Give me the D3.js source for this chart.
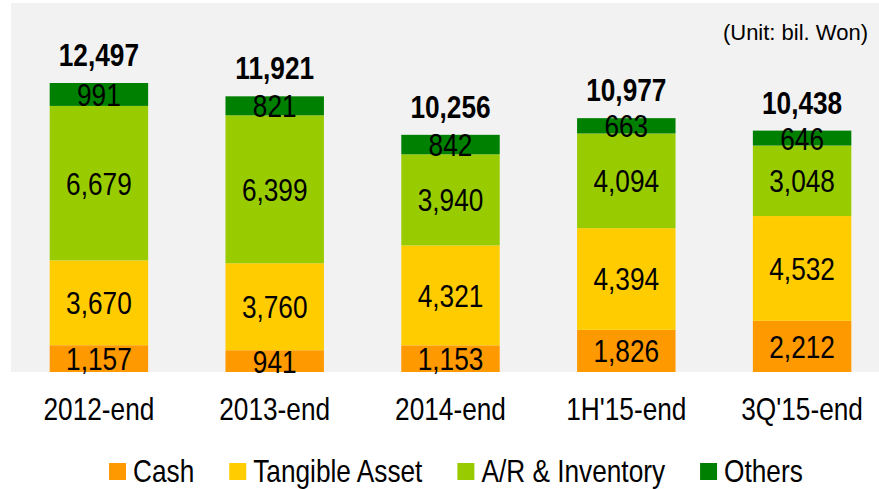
<!DOCTYPE html>
<html>
<head>
<meta charset="utf-8">
<script src="https://cdn.jsdelivr.net/npm/d3@7"></script>
<style>
  body { margin: 0; background: #fff; }
  svg { display: block; font-family: "Liberation Sans", Arial, sans-serif; }
</style>
</head>
<body>
<svg width="879" height="489"></svg>
<script>
// data (bil. Won)
const categories = ["2012-end", "2013-end", "2014-end", "1H'15-end", "3Q'15-end"];
const cash = [1157, 941, 1153, 1826, 2212];
const tangible = [3670, 3760, 4321, 4394, 4532];
const arInventory = [6679, 6399, 3940, 4094, 3048];
const others = [991, 821, 842, 663, 646];
const totals = [12497, 11921, 10256, 10977, 10438];
const seriesNames = ["Cash", "Tangible Asset", "A/R & Inventory", "Others"];
const colors = ["#FF9900", "#FFCC00", "#99CC00", "#008000"];

const svg = d3.select('svg');
const fmt = d3.format(',');
const narrow = 0.82; // fake "Arial Narrow" by squeezing Liberation Sans

// squeezed text placed at (px, py)
function narrowText(sel, px, py) {
  return sel.attr('x', 0).attr('y', 0)
    .attr('transform', (d, i) => `translate(${px(d, i)},${py(d, i)}) scale(${narrow},1)`);
}

// gray plot background
svg.append('rect')
  .attr('x', 11).attr('y', 3)
  .attr('width', 868).attr('height', 369)
  .attr('fill', '#F2F2F2');

const x = d3.scaleBand()
  .domain(categories)
  .range([11, 890])
  .paddingInner(0.44)
  .paddingOuter(0.22);

const y = d3.scaleLinear()
  .domain([0, d3.max(totals)])
  .range([372, 83]);

const rows = categories.map((c, i) => ({
  cat: c, Cash: cash[i], "Tangible Asset": tangible[i],
  "A/R & Inventory": arInventory[i], Others: others[i]
}));
const stacked = d3.stack().keys(seriesNames)(rows);

const layers = svg.selectAll('g.layer').data(stacked)
  .enter().append('g')
    .attr('class', 'layer')
    .attr('fill', (d, i) => colors[i]);

layers.selectAll('rect').data(d => d)
  .enter().append('rect')
    .attr('x', d => x(d.data.cat))
    .attr('width', x.bandwidth())
    .attr('y', d => y(d[1]))
    .attr('height', d => y(d[0]) - y(d[1]));

layers.selectAll('text').data(d => d)
  .enter().append('text')
    .call(narrowText, d => x(d.data.cat) + x.bandwidth() / 2, d => (y(d[0]) + y(d[1])) / 2)
    .attr('dy', '0.36em')
    .attr('text-anchor', 'middle')
    .attr('font-size', 32)
    .attr('fill', '#000')
    .text(d => fmt(d[1] - d[0]));

// totals on top
svg.selectAll('text.total').data(totals)
  .enter().append('text')
    .attr('class', 'total')
    .call(narrowText, (d, i) => x(categories[i]) + x.bandwidth() / 2, d => y(d) - 17)
    .attr('text-anchor', 'middle')
    .attr('font-size', 32)
    .attr('font-weight', 'bold')
    .text(d => fmt(d));

// category axis
const xAxis = svg.append('g')
  .attr('transform', 'translate(0,372)')
  .attr('font-family', null)
  .call(d3.axisBottom(x).tickSize(0).tickPadding(0));
xAxis.attr('font-family', null);
xAxis.select('.domain').remove();
xAxis.selectAll('text')
  .attr('dy', null)
  .attr('y', 48)
  .attr('transform', `scale(${narrow},1)`)
  .attr('x', 0)
  .attr('font-size', 32)
  .attr('fill', '#000');

// unit note
svg.append('text')
  .attr('x', 868).attr('y', 40)
  .attr('text-anchor', 'end')
  .attr('font-size', 22)
  .text('(Unit: bil. Won)');

// legend
const legend = svg.append('g').attr('transform', 'translate(109,0)');
let lx = 0;
seriesNames.forEach((name, i) => {
  const g = legend.append('g').attr('transform', `translate(${lx},0)`);
  g.append('rect')
    .attr('x', 0).attr('y', 463)
    .attr('width', 17).attr('height', 17)
    .attr('fill', colors[i]);
  const t = g.append('text')
    .attr('transform', `translate(24,482) scale(${narrow},1)`)
    .attr('font-size', 32)
    .text(name);
  lx += 24 + t.node().getComputedTextLength() * narrow + 35;
});
</script>
</body>
</html>
